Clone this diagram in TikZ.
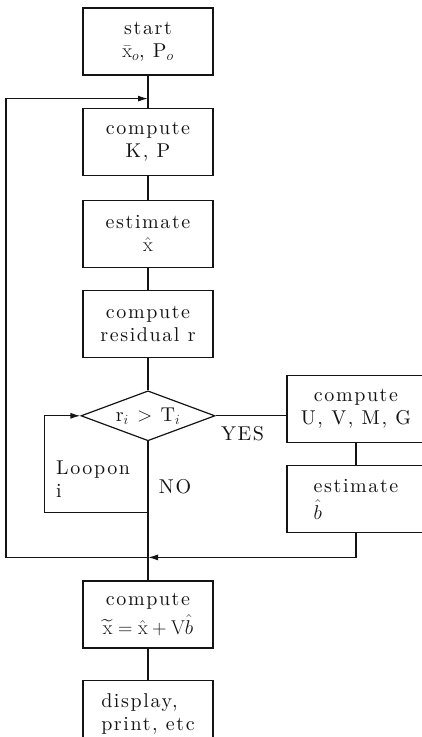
\RequirePackage{fix-cm}
\documentclass[tikz,border=0pt]{standalone}
\usepackage{amsmath}
\usepackage{fontspec}
\usepackage{tikz}
\usetikzlibrary{arrows.meta,positioning,shapes.geometric,calc}
\newfontfamily\kfFace{lmroman10-regular.otf}[LetterSpace=8]
\newcommand{\kfFont}{\fontsize{20}{23}\selectfont\kfFace}
\definecolor{kfInk}{HTML}{141414}
\tikzset{
  kfLine/.style={draw=kfInk, line width=1.2pt},
  kfArrow/.style={-{Latex[length=10pt,width=6pt]}, draw=kfInk, line width=1.2pt},
  kfBox/.style={
    draw=kfInk,
    line width=1.2pt,
    align=center,
    minimum width=130pt,
    minimum height=67pt,
    inner sep=0pt
  },
  kfDecision/.style={
    diamond,
    aspect=2.6,
    draw=kfInk,
    line width=1.2pt,
    align=center,
    minimum width=134pt,
    minimum height=50pt,
    inner sep=0pt
  },
  kfLabel/.style={inner sep=0pt, text=kfInk}
}
\begin{document}
\begin{tikzpicture}[x=1pt, y=-1pt, font=\kfFont, text=kfInk]
  \useasboundingbox (0,0) rectangle (422,737);
  \node[kfBox] (start) at (148,41.5) {start\\$\bar{\mathrm{x}}_o$, P$_o$};
  \node[kfBox, below=32pt of start] (gain) {compute\\K, P};
  \node[kfBox, below=24pt of gain] (estx) {estimate\\$\hat{\mathrm{x}}$};
  \node[kfBox, below=22pt of estx] (resid) {compute\\residual r};
  \node[kfDecision, below=32pt of resid] (test) {r$_i$ $>$ T$_i$};

  \node[kfBox, minimum width=138pt] (bias) at (356,409) {compute\\U, V, M, G};
  \node[kfBox, minimum width=138pt, align=left, below=22pt of bias] (estb) {estimate\\[4pt]$\hat{b}$};

  \node[kfBox] (update) at (148,614.5)
    {compute\\[4pt]$\widetilde{\mathrm{x}}=\hat{\mathrm{x}}+\mathrm{V}\hat{b}$};
  \node[kfBox, align=left, below=31pt of update] (show) {display,\\print, etc};

  \foreach \a/\b in {start/gain,gain/estx,estx/resid,resid/test,bias/estb,update/show}
    \draw[kfLine] (\a) -- (\b);
  \draw[kfLine] (test.east) -- (test.east -| bias.west);
  \node[kfLabel] (yes) at ($(test.east)+(27,18)$) {YES};

  % merge of both branches
  \coordinate (merge) at ($(update.north)+(0,-23)$);
  \coordinate (loopTop) at ($(gain.north)+(0,-9)$);
  \coordinate (outer) at (6,0);
  \draw[kfLine] (test.south) -- (update.north);
  \node[kfLabel] (no) at ($(test.south)+(27,45)$) {NO};
  \draw[kfArrow] (estb.south) |- (merge);
  \draw[kfArrow] (merge) -- (merge -| outer) |- (loopTop);

  % loop on i
  \coordinate (iterLow) at ($(test.south)+(0,71)$);
  \coordinate (iterLeft) at ($(test.west)+(-36,0)$);
  \draw[kfArrow] (iterLow) -| (iterLeft) -- (test.west);
  \node[kfLabel, align=left, anchor=west] (loopi) at (56,479) {Loopon\\i};
\end{tikzpicture}
\end{document}
